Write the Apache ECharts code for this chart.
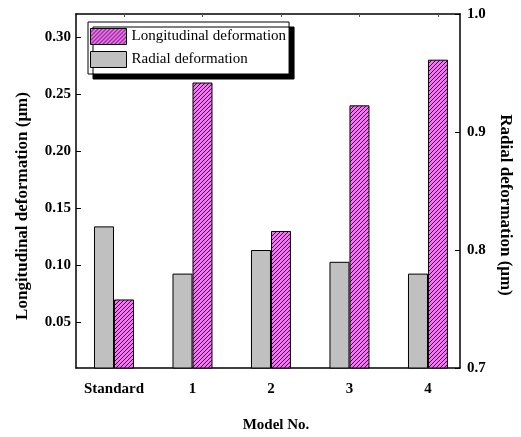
<!DOCTYPE html>
<html>
<head>
<meta charset="utf-8">
<script src="https://cdn.jsdelivr.net/npm/echarts@6/dist/echarts.min.js"></script>
<style>html,body{margin:0;padding:0;background:#fff;}#c{width:521px;height:437px;}</style>
</head>
<body>
<div id="c"></div>
<script>
// ---- data ----
var categories = ['Standard', '1', '2', '3', '4'];
var radialValues = [0.82, 0.78, 0.80, 0.79, 0.78];          // right axis (μm)
var longitudinalValues = [0.07, 0.26, 0.13, 0.24, 0.28];    // left axis (μm)
var leftTicks = [0.05, 0.10, 0.15, 0.20, 0.25, 0.30];
var rightTicks = [0.7, 0.8, 0.9, 1.0];

// hatch pattern
function makeHatch() {
  var s = 4, c = document.createElement('canvas');
  c.width = s; c.height = s;
  var g = c.getContext('2d');
  g.fillStyle = '#ff6eff'; g.fillRect(0, 0, s, s);
  g.strokeStyle = '#000'; g.lineWidth = 0.9;
  g.beginPath();
  g.moveTo(0, s); g.lineTo(s, 0);
  g.moveTo(-1, 1); g.lineTo(1, -1);
  g.moveTo(s - 1, s + 1); g.lineTo(s + 1, s - 1);
  g.stroke();
  return c;
}
var hatch = { image: makeHatch(), repeat: 'repeat' };

var catIdx = categories.map(function (c, i) { return i; });
var tickPos = catIdx.map(function (i) { return i + 0.13; });
var font = 'Liberation Serif';

var chart = echarts.init(document.getElementById('c'));
var xCommon = {
  type: 'value', min: -0.484, max: 4.408,
  axisLine: { show: true, onZero: false, lineStyle: { color: '#000', width: 1.5 } },
  splitLine: { show: false },
  axisTick: { show: true, inside: true, length: 3, customValues: tickPos, lineStyle: { color: '#555' } }
};
chart.setOption({
  animation: false,
  backgroundColor: '#fff',
  grid: { left: 76, right: 61, top: 14, bottom: 69 },
  legend: {
    orient: 'vertical', left: 88, top: 22,
    data: ['Longitudinal deformation', 'Radial deformation'],
    icon: 'rect', itemWidth: 36, itemHeight: 16, itemGap: 6,
    padding: [6, 3, 6, 2],
    backgroundColor: '#fff', borderColor: '#000', borderWidth: 1,
    shadowColor: '#000', shadowBlur: 0, shadowOffsetX: 5, shadowOffsetY: 5,
    textStyle: { fontFamily: font, fontSize: 15, color: '#000', padding: [0, 0, 0, 0] },
    itemStyle: { borderColor: '#000', borderWidth: 1 }
  },
  xAxis: [
    Object.assign({}, xCommon, {
      position: 'bottom',
      axisLabel: {
        customValues: catIdx, margin: 14,
        formatter: function (v) { return categories[Math.round(v)]; },
        fontFamily: font, fontWeight: 'bold', fontSize: 15, color: '#000'
      }
    }),
    Object.assign({}, xCommon, { position: 'top', axisLabel: { show: false } })
  ],
  yAxis: [
    {
      type: 'value', min: 0.01, max: 0.32, position: 'left',
      axisLine: { show: true, onZero: false, lineStyle: { color: '#000', width: 1.5 } },
      splitLine: { show: false },
      axisTick: { show: true, inside: true, length: 5, customValues: leftTicks, lineStyle: { color: '#000' } },
      axisLabel: {
        customValues: leftTicks, margin: 5,
        formatter: function (v) { return v.toFixed(2); },
        fontFamily: font, fontWeight: 'bold', fontSize: 15, color: '#000'
      }
    },
    {
      type: 'value', min: 0.7, max: 1.0, position: 'right',
      axisLine: { show: true, onZero: false, lineStyle: { color: '#000', width: 1.5 } },
      splitLine: { show: false },
      axisTick: { show: true, inside: true, length: 5, customValues: rightTicks, lineStyle: { color: '#000' } },
      axisLabel: {
        customValues: rightTicks, margin: 7,
        formatter: function (v) { return v.toFixed(1); },
        fontFamily: font, fontWeight: 'bold', fontSize: 15, color: '#000'
      }
    }
  ],
  series: [
    {
      name: 'Radial deformation', type: 'bar', xAxisIndex: 0, yAxisIndex: 1,
      barWidth: 20, barGap: '0%',
      itemStyle: { color: '#c0c0c0', borderColor: '#000', borderWidth: 1 },
      data: radialValues.map(function (v, i) { return [i, v]; })
    },
    {
      name: 'Longitudinal deformation', type: 'bar', xAxisIndex: 0, yAxisIndex: 0,
      barWidth: 20, barGap: '0%',
      itemStyle: { color: hatch, borderColor: '#000', borderWidth: 1 },
      data: longitudinalValues.map(function (v, i) { return [i, v]; })
    }
  ],
  graphic: [
    { type: 'text', x: 23, y: 206, rotation: Math.PI / 2,
      style: { text: 'Longitudinal deformation (μm)', align: 'center', verticalAlign: 'middle',
        font: 'bold 17px "Liberation Serif"', fill: '#000' } },
    { type: 'text', x: 505, y: 205, rotation: -Math.PI / 2,
      style: { text: 'Radial deformation (μm)', align: 'center', verticalAlign: 'middle',
        font: 'bold 17px "Liberation Serif"', fill: '#000' } },
    { type: 'text', x: 276, y: 425,
      style: { text: 'Model No.', align: 'center', verticalAlign: 'middle',
        font: 'bold 15px "Liberation Serif"', fill: '#000' } }
  ]
});
</script>
</body>
</html>
